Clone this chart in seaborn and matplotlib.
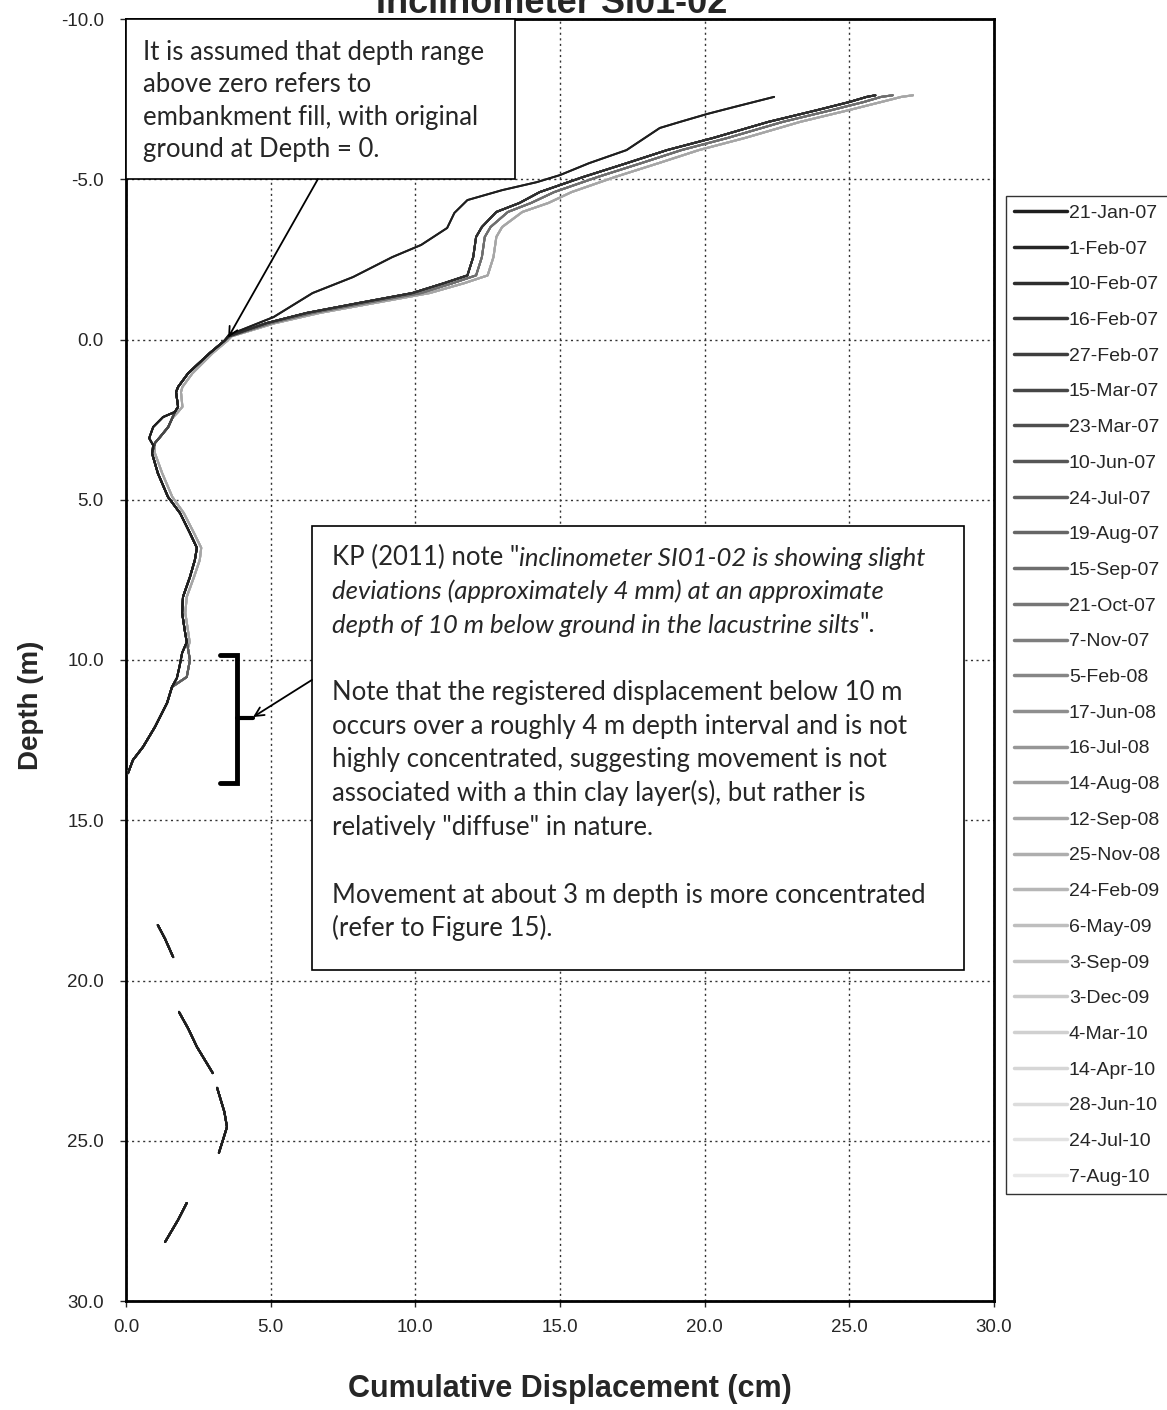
import matplotlib
matplotlib.use("Agg")
import matplotlib.pyplot as plt
from matplotlib.patches import Rectangle
from matplotlib.lines import Line2D
import seaborn as sns
import pandas as pd

# ---------------- data ----------------
dates = ['21-Jan-07', '1-Feb-07', '10-Feb-07', '16-Feb-07', '27-Feb-07', '15-Mar-07',
         '23-Mar-07', '10-Jun-07', '24-Jul-07', '19-Aug-07', '15-Sep-07', '21-Oct-07',
         '7-Nov-07', '5-Feb-08', '17-Jun-08', '16-Jul-08', '14-Aug-08', '12-Sep-08',
         '25-Nov-08', '24-Feb-09', '6-May-09', '3-Sep-09', '3-Dec-09', '4-Mar-10',
         '14-Apr-10', '28-Jun-10', '24-Jul-10', '7-Aug-10']

# which read-off profile variant each reading follows
top_variant = ['U', 'U'] + ['B1'] * 8 + ['B2'] * 7 + ['B3'] * 11
loop_variant = ['A'] * 5 + ['B'] * 23
strand_variant = ['A'] * 8 + ['B'] * 20
mid_variant = ['E'] * 17 + ['L'] * 11

# embankment fill (above original ground), upper line
top_u_depth = [-7.57, -7.25, -7.04, -6.79, -6.60, -5.91, -5.50, -5.13, -4.91, -4.66,
               -4.35, -3.95, -3.48, -2.95, -2.57, -1.95, -1.45, -0.70, -0.14]
top_u_disp = [22.4, 21.0, 20.1, 19.15, 18.45, 17.3, 16.0, 15.0, 14.2, 13.0,
              11.8, 11.35, 11.1, 10.2, 9.2, 7.85, 6.45, 5.1, 3.55]

# embankment fill, lower bundle
top_b_depth = [-7.62, -7.57, -7.41, -7.16, -6.79, -6.29, -5.91, -5.50, -5.07, -4.60,
               -4.26, -3.98, -3.51, -3.20, -2.57, -2.00, -1.76, -1.45, -1.14, -0.83,
               -0.51, -0.10]
top_b1_disp = [25.9, 25.6, 25.0, 23.9, 22.2, 20.3, 18.7, 17.3, 15.8, 14.3,
               13.6, 12.8, 12.3, 12.1, 12.0, 11.8, 11.0, 9.9, 8.05, 6.25, 4.85, 3.55]
top_b2_disp = [26.5, 26.1, 25.5, 24.4, 22.7, 20.8, 19.2, 17.8, 16.3, 14.8,
               14.0, 13.2, 12.6, 12.4, 12.3, 12.1, 11.3, 10.2, 8.3, 6.45, 5.0, 3.6]
top_b3_disp = [27.2, 26.8, 26.1, 25.0, 23.3, 21.4, 19.8, 18.4, 16.9, 15.4,
               14.6, 13.7, 13.0, 12.8, 12.7, 12.5, 11.7, 10.5, 8.6, 6.7, 5.15, 3.65]

# natural ground
mid1_depth = [0.04, 0.42, 1.05, 1.48, 1.64, 2.10, 2.26]
mid1_disp_e = [3.4, 2.9, 2.15, 1.8, 1.73, 1.8, 1.69]
mid1_disp_l = [3.5, 3.0, 2.3, 1.95, 1.9, 1.95, 1.8]

loop_a_depth = [2.42, 2.73, 3.08, 3.30]
loop_a_disp = [1.28, 0.94, 0.80, 0.94]
loop_b_depth = [2.45, 2.73, 3.04, 3.23]
loop_b_disp = [1.60, 1.46, 1.18, 1.00]

mid2_depth = [3.55, 4.17, 4.91, 5.42, 6.04, 6.50, 6.88, 7.41, 8.03, 8.53, 9.13, 9.44]
mid2_disp_e = [0.9, 1.1, 1.45, 1.87, 2.21, 2.45, 2.38, 2.21, 1.97, 1.94, 2.04, 2.1]
mid2_disp_l = [1.0, 1.25, 1.6, 2.0, 2.35, 2.6, 2.55, 2.35, 2.1, 2.05, 2.15, 2.2]

strand_a_depth = [9.78, 10.20, 10.56]
strand_a_disp = [1.94, 1.85, 1.76]
strand_b_depth = [9.63, 10.00, 10.53]
strand_b_disp = [2.14, 2.21, 2.10]

mid3_depth = [10.84, 11.34, 12.09, 12.71, 13.12, 13.53]
mid3_disp = [1.59, 1.42, 1.00, 0.59, 0.24, 0.07]

# deep part: only these pieces remain legible on the scan
deep1_depth = [18.27, 18.70, 19.27]
deep1_disp = [1.10, 1.35, 1.63]
deep2_depth = [20.98, 21.50, 22.07, 22.89]
deep2_disp = [1.83, 2.15, 2.45, 3.00]
deep3_depth = [23.35, 24.10, 24.57, 24.98, 25.38]
deep3_disp = [3.15, 3.40, 3.49, 3.35, 3.21]
deep4_depth = [26.94, 27.47, 28.16]
deep4_disp = [2.10, 1.80, 1.35]

x_ticks = [0, 5, 10, 15, 20, 25, 30]
y_ticks = [-10, -5, 0, 5, 10, 15, 20, 25, 30]

# ---------------- styles ----------------
greys = ['#1e1e1e', '#262626', '#2e2e2e', '#363636', '#3e3e3e', '#464646', '#4e4e4e',
         '#565656', '#5e5e5e', '#666666', '#6e6e6e', '#767676', '#7e7e7e', '#868686',
         '#8e8e8e', '#969696', '#9e9e9e', '#a6a6a6', '#aeaeae', '#b6b6b6', '#bebebe',
         '#c4c4c4', '#cacaca', '#d0d0d0', '#d6d6d6', '#dcdcdc', '#e2e2e2', '#e8e8e8']

# ---------------- long table ----------------
tops = {'U': (top_u_depth, top_u_disp), 'B1': (top_b_depth, top_b1_disp),
        'B2': (top_b_depth, top_b2_disp), 'B3': (top_b_depth, top_b3_disp)}
loops = {'A': (loop_a_depth, loop_a_disp), 'B': (loop_b_depth, loop_b_disp)}
strands = {'A': (strand_a_depth, strand_a_disp), 'B': (strand_b_depth, strand_b_disp)}
mid1s = {'E': mid1_disp_e, 'L': mid1_disp_l}
mid2s = {'E': mid2_disp_e, 'L': mid2_disp_l}

records = []
for i, d in enumerate(dates):
    td, tx = tops[top_variant[i]]
    ld, lx = loops[loop_variant[i]]
    sd, sx = strands[strand_variant[i]]
    main_d = list(td) + mid1_depth + list(ld) + mid2_depth + list(sd) + mid3_depth
    main_x = (list(tx) + mid1s[mid_variant[i]] + list(lx) + mid2s[mid_variant[i]]
              + list(sx) + mid3_disp)
    segments = [(main_d, main_x), (deep1_depth, deep1_disp), (deep2_depth, deep2_disp),
                (deep3_depth, deep3_disp), (deep4_depth, deep4_disp)]
    for k, (dd, xx) in enumerate(segments):
        for a, b in zip(dd, xx):
            records.append({'date': d, 'unit': f'{d}|{k}', 'depth': a, 'disp': b})
df = pd.DataFrame(records)

# ---------------- figure ----------------
sns.set_style('white')
plt.rcParams['font.family'] = ['Liberation Sans', 'DejaVu Sans']

W, H = 1167, 1410
fig = plt.figure(figsize=(W / 100, H / 100), dpi=100)
ax = fig.add_axes([126 / W, 1 - 1301 / H, 868 / W, 1282 / H])

sns.lineplot(data=df, x='disp', y='depth', hue='date', units='unit', estimator=None,
             sort=False, palette=dict(zip(dates, greys)), hue_order=dates[::-1],
             legend=False, lw=1.4, ax=ax, zorder=3)

ax.set_xlim(0, 30)
ax.set_ylim(30, -10)
ax.set_xticks(x_ticks)
ax.set_xticklabels([f'{v:.1f}' for v in x_ticks], fontsize=13.5)
ax.set_yticks(y_ticks)
ax.set_yticklabels([f'{v:.1f}' for v in y_ticks], fontsize=13.5)
ax.tick_params(axis='x', direction='out', length=4, width=1, pad=9, bottom=True)
ax.tick_params(axis='y', direction='out', length=4, width=1, pad=12, left=True)
ax.grid(True, color='#333333', linestyle=(0, (1.5, 2.5)), linewidth=1.0, zorder=1)
ax.set_axisbelow(True)
for s in ax.spines.values():
    s.set_color('black')
    s.set_linewidth(2)

ax.set_xlabel('Cumulative Displacement (cm)', fontsize=22, fontweight='bold')
ax.set_ylabel('Depth (m)', fontsize=20, fontweight='bold')
ax.xaxis.set_label_coords((570 - 126) / 868, (1301 - 1374) / 1282)
ax.yaxis.set_label_coords((44 - 126) / 868, (1301 - 705) / 1282)

fig.text(552 / W, 1 - 13 / H, 'Inclinometer SI01-02', ha='center', va='baseline',
         fontsize=26, fontweight='bold')

# legend
handles = [Line2D([0], [0], color=g, lw=2.5) for g in greys]
leg = ax.legend(handles, dates, loc='upper left', bbox_to_anchor=(1006 / W, 1 - 196 / H),
                bbox_transform=fig.transFigure, borderaxespad=0, frameon=True,
                fancybox=False, edgecolor='black', fontsize=14, handlelength=2.7,
                handletextpad=0.1, labelspacing=0.93, borderpad=0.43)
leg.get_frame().set_linewidth(1.0)

# annotation boxes
box_font = ['Lato', 'DejaVu Sans']
fs_box = 18.5
ax.add_patch(Rectangle((0, -10), 13.45, 5.0, facecolor='white', edgecolor='black',
                       lw=1.2, zorder=5, clip_on=False))
ax.add_patch(Rectangle((6.43, 5.82), 22.54, 13.85, facecolor='white', edgecolor='black',
                       lw=1.2, zorder=5, clip_on=False))

box1_lines = ['It is assumed that depth range', 'above zero refers to',
              'embankment fill, with original', 'ground at Depth = 0.']
for j, t in enumerate(box1_lines):
    fig.text(143 / W, 1 - (60 + 32.5 * j) / H, t, ha='left', va='baseline',
             fontsize=fs_box, family=box_font, zorder=7)

x2 = 332 / W
def yb(j):
    return 1 - (565 + 33.75 * j) / H

t1 = fig.text(x2, yb(0), 'KP (2011) note "', ha='left', va='baseline', fontsize=fs_box,
              family=box_font, zorder=7)
ax.annotate('inclinometer SI01-02 is showing slight', xy=(1, 0), xycoords=t1,
            ha='left', va='bottom', fontsize=fs_box, family=box_font, style='italic',
            zorder=7, annotation_clip=False)
fig.text(x2, yb(1), 'deviations (approximately 4 mm) at an approximate', ha='left',
         va='baseline', fontsize=fs_box, family=box_font, style='italic', zorder=7)
t3 = fig.text(x2, yb(2), 'depth of 10 m below ground in the lacustrine silts', ha='left',
              va='baseline', fontsize=fs_box, family=box_font, style='italic', zorder=7)
ax.annotate('".', xy=(1, 0), xycoords=t3, ha='left', va='bottom', fontsize=fs_box,
            family=box_font, zorder=7, annotation_clip=False)
rest = {4: 'Note that the registered displacement below 10 m',
        5: 'occurs over a roughly 4 m depth interval and is not',
        6: 'highly concentrated, suggesting movement is not',
        7: 'associated with a thin clay layer(s), but rather is',
        8: 'relatively "diffuse" in nature.',
        10: 'Movement at about 3 m depth is more concentrated',
        11: '(refer to Figure 15).'}
for j, t in rest.items():
    fig.text(x2, yb(j), t, ha='left', va='baseline', fontsize=fs_box, family=box_font,
             zorder=7)

# arrows and bracket
arrow_kw = dict(arrowstyle='->', color='black', lw=1.3, shrinkA=0, shrinkB=0,
                mutation_scale=16)
ax.annotate('', xy=(3.53, -0.06), xytext=(6.63, -5.0), arrowprops=arrow_kw, zorder=6)
ax.annotate('', xy=(4.39, 11.78), xytext=(6.43, 10.62), arrowprops=arrow_kw, zorder=6)
ax.plot([3.25, 3.84, 3.84, 3.25], [9.84, 9.84, 13.84, 13.84], color='black', lw=3.5,
        solid_joinstyle='miter', zorder=6)
ax.plot([3.84, 4.39], [11.81, 11.81], color='black', lw=3, zorder=6)

fig.savefig('out.png', dpi=100)
